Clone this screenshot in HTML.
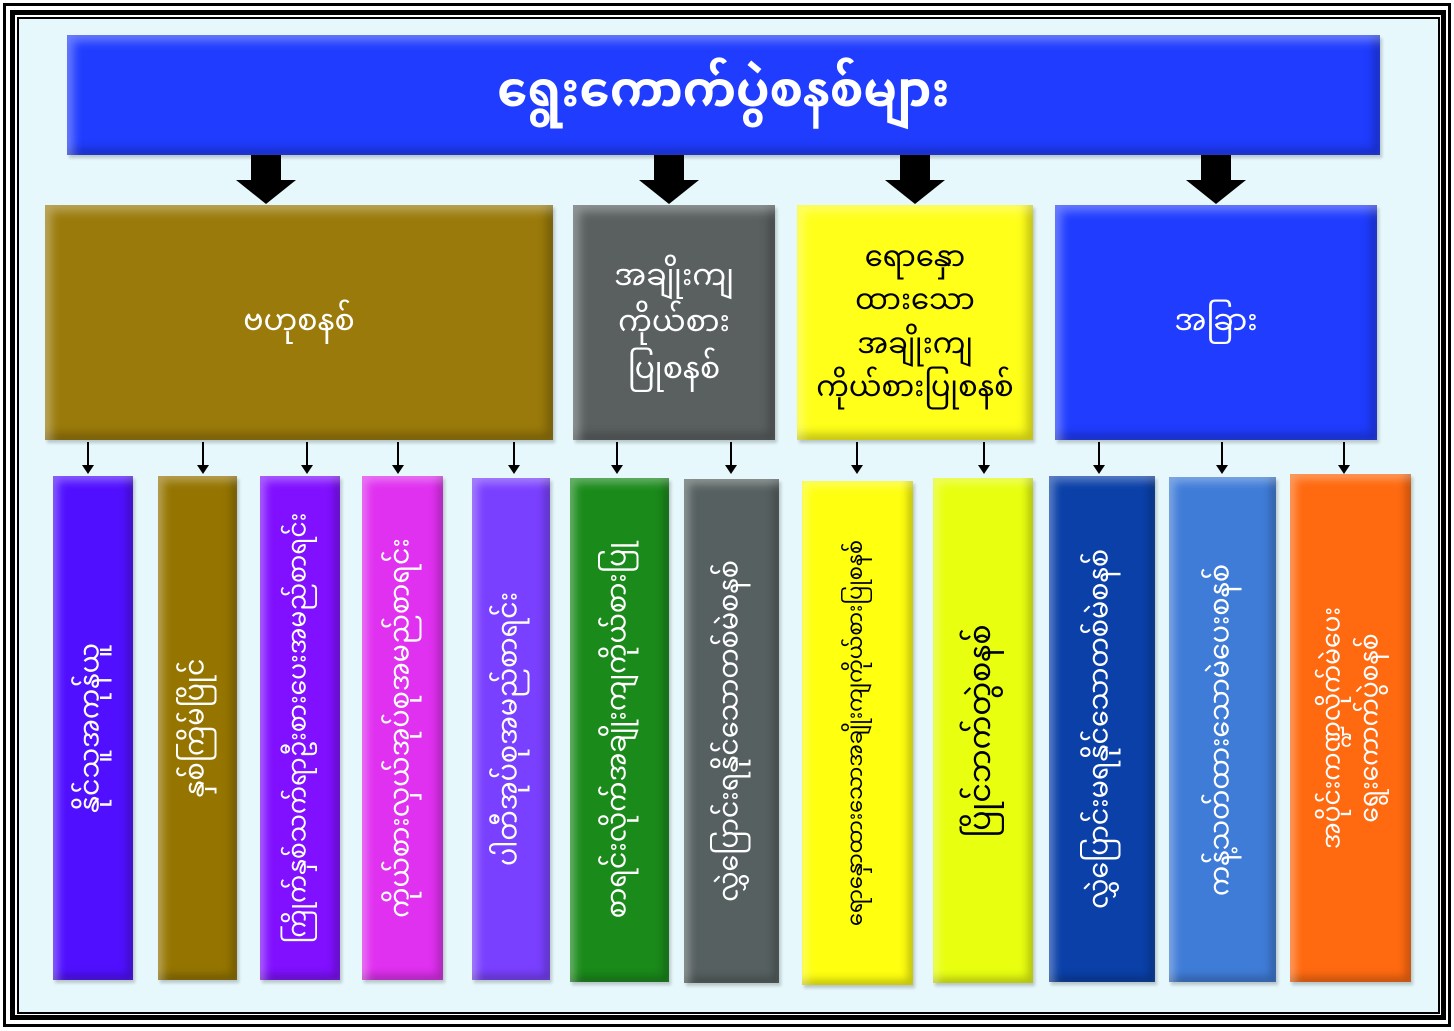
<!DOCTYPE html>
<html><head><meta charset="utf-8">
<style>
*{margin:0;padding:0;box-sizing:border-box}
body{width:1454px;height:1031px;background:#fff;position:relative;overflow:hidden;font-family:"Liberation Sans","Noto Sans Myanmar","Padauk","Myanmar Text",sans-serif}
.f{position:absolute}
.b{position:absolute;display:flex;align-items:center;justify-content:center;text-align:center;color:#fff;box-shadow:inset 6px 6px 10px rgba(255,255,255,.35),inset -6px -6px 10px rgba(0,0,0,.25),2px 3px 3px rgba(0,0,0,.2)}
.v{position:absolute;box-shadow:inset 5px 5px 9px rgba(255,255,255,.35),inset -5px -5px 9px rgba(0,0,0,.25),2px 3px 3px rgba(0,0,0,.2)}
.v span{position:absolute;left:50%;top:50%;white-space:nowrap;transform:translate(-50%,-50%) rotate(-90deg);color:#fff;font-size:27px}
.sa{position:absolute;width:2px;background:#000;height:24px;top:442px}
.sa:after{content:"";position:absolute;left:-5px;bottom:-8px;border-left:6px solid transparent;border-right:6px solid transparent;border-top:9px solid #000}
.ba{position:absolute;top:155px;width:60px;height:48px}
.ba:before{content:"";position:absolute;left:15px;top:0;width:30px;height:26px;background:#000}
.ba:after{content:"";position:absolute;left:0;top:25px;border-left:30px solid transparent;border-right:30px solid transparent;border-top:24px solid #000}
</style></head><body>
<div class="f" style="left:3px;top:3px;width:1448px;height:1024px;border:3px solid #000"></div>
<div class="f" style="left:10px;top:10px;width:1436px;height:1010px;border:5px solid #000"></div>
<div class="f" style="left:17px;top:17px;width:1423px;height:997px;border:2px solid #000;background:#e6f8fc"></div>

<div class="b" style="left:67px;top:35px;width:1313px;height:120px;background:#1f3cff;font-size:48px;font-weight:bold">ရွေးကောက်ပွဲစနစ်များ</div>

<div class="ba" style="left:236px"></div>
<div class="ba" style="left:639px"></div>
<div class="ba" style="left:885px"></div>
<div class="ba" style="left:1186px"></div>

<div class="b" style="left:45px;top:205px;width:508px;height:235px;background:#9a7a0a;font-size:30px">ဗဟုစနစ်</div>
<div class="b" style="left:573px;top:205px;width:202px;height:235px;background:#5a6060;font-size:30px;line-height:1.55">အချိုးကျ<br>ကိုယ်စား<br>ပြုစနစ်</div>
<div class="b" style="left:797px;top:205px;width:236px;height:235px;background:#ffff1a;color:#000;font-size:29px;line-height:1.5">ရောနှော<br>ထားသော<br>အချိုးကျ<br>ကိုယ်စားပြုစနစ်</div>
<div class="b" style="left:1055px;top:205px;width:322px;height:235px;background:#1f3cff;font-size:30px">အခြား</div>

<div class="sa" style="left:87px"></div>
<div class="sa" style="left:202px"></div>
<div class="sa" style="left:306px"></div>
<div class="sa" style="left:397px"></div>
<div class="sa" style="left:513px"></div>
<div class="sa" style="left:616px"></div>
<div class="sa" style="left:730px"></div>
<div class="sa" style="left:856px"></div>
<div class="sa" style="left:983px"></div>
<div class="sa" style="left:1098px"></div>
<div class="sa" style="left:1221px"></div>
<div class="sa" style="left:1343px"></div>

<div class="v" style="left:53px;top:476px;width:80px;height:504px;background:#5010ff"><span>နိုင်သူအကုန်ယူ</span></div>
<div class="v" style="left:158px;top:476px;width:79px;height:504px;background:#957500"><span>နှစ်ကြိမ်ပြိုင်</span></div>
<div class="v" style="left:260px;top:476px;width:80px;height:504px;background:#8010ff"><span style="font-size:25px">ကြိုက်နှစ်သက်ရာဦးစားပေးအမည်စာရင်း</span></div>
<div class="v" style="left:362px;top:476px;width:81px;height:504px;background:#e030f0"><span>ကိုယ်စားလှယ်အုပ်စုအမည်စာရင်း</span></div>
<div class="v" style="left:472px;top:478px;width:78px;height:502px;background:#7a40ff"><span>ပါတီအုပ်စုအမည်စာရင်း</span></div>
<div class="v" style="left:570px;top:478px;width:99px;height:504px;background:#1a8a1a"><span>စာရင်းလိုက်အချိုးကျကိုယ်စားပြု</span></div>
<div class="v" style="left:684px;top:479px;width:95px;height:504px;background:#566060"><span>လွှဲပြောင်းရနိုင်သောတစ်မဲစနစ်</span></div>
<div class="v" style="left:802px;top:481px;width:111px;height:504px;background:#ffff10"><span style="color:#000;font-size:21px">ရောနှောထားသောအချိုးကျကိုယ်စားပြုစနစ်</span></div>
<div class="v" style="left:933px;top:478px;width:100px;height:505px;background:#e8ff10"><span style="color:#000;font-size:30px">ပြိုင်ဘက်တွဲစနစ်</span></div>
<div class="v" style="left:1049px;top:476px;width:106px;height:506px;background:#0a40a8"><span>လွှဲပြောင်းမရနိုင်သောတစ်မဲစနစ်</span></div>
<div class="v" style="left:1169px;top:477px;width:107px;height:505px;background:#3f7cd8"><span>ကန့်သတ်ထားသောမဲပေးစနစ်</span></div>
<div class="v" style="left:1290px;top:474px;width:121px;height:508px;background:#ff6a10"><span style="line-height:1.5;text-align:center;font-size:25px">အပိုင်းကဏ္ဍလိုက်မဲပေး<br>ရွေးကောက်ပွဲစနစ်</span></div>
</body></html>
